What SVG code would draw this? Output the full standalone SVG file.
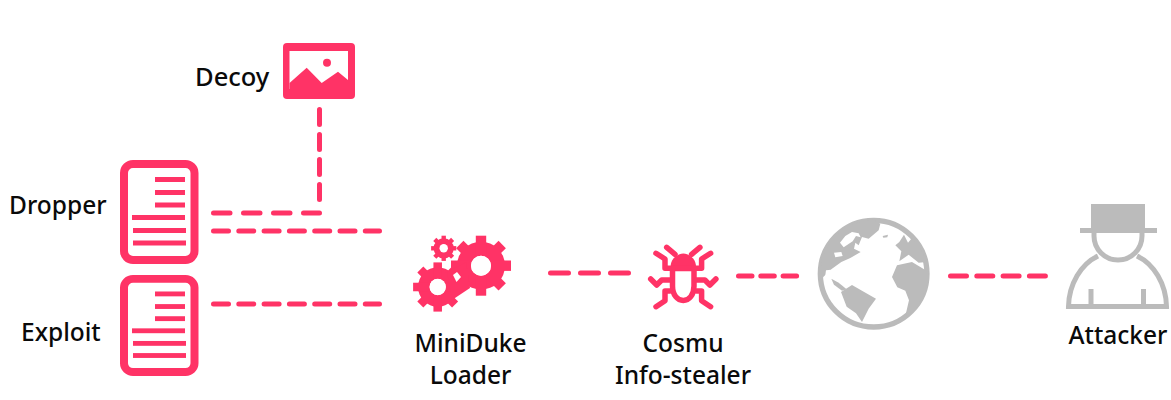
<svg xmlns="http://www.w3.org/2000/svg" xmlns:xlink="http://www.w3.org/1999/xlink" width="1171" height="400" viewBox="0 0 1171 400">
<style>
text{font-family:"Noto Sans","Open Sans",sans-serif;font-size:24.500px;font-weight:500;fill:#0a0a0a}
.m{text-anchor:middle}
.c{fill:none;stroke:#ff3366;stroke-width:5;stroke-linecap:round}
.p{fill:#ff3366}
.g{fill:#bbbbbb}
.w{fill:#ffffff}
.a{fill:none;stroke:#bbbbbb;stroke-width:5}
.b{fill:none;stroke:#ff3366;stroke-width:5.500;stroke-linecap:round;stroke-linejoin:round}
</style>
<defs>
<g id="doc">
<rect x="124" y="4" width="70.500" height="96" rx="9" fill="#fff" stroke="#ff3366" stroke-width="8"/>
<rect class="p" x="155" y="17" width="30" height="5"/>
<rect class="p" x="155" y="30" width="30" height="5"/>
<rect class="p" x="155" y="42.500" width="30" height="5"/>
<rect class="p" x="132" y="55" width="53" height="5"/>
<rect class="p" x="133" y="68" width="53" height="5"/>
<rect class="p" x="133" y="80.500" width="53" height="5"/>
</g>
<g id="gear">
<circle class="p" r="24"/>
<g id="t1"><rect class="p" x="-5.200" y="-30" width="10.400" height="60"/><rect class="p" x="-30" y="-5.200" width="60" height="10.400"/></g>
<use href="#t1" transform="rotate(45)"/>
<circle class="w" r="10"/>
</g>
<g id="legs">
<path class="b" d="M666.700 247.300L675 254.300M656 253.300L665 259V268.300H673M650.700 279L656.700 285L661.700 280H670M656 306.700L665 300.700V291H670"/>
</g>
</defs>
<g id="connectors">
<line class="c" x1="319.500" y1="109.500" x2="319.500" y2="199.500" stroke-dasharray="15 10"/>
<line class="c" x1="213.500" y1="213" x2="319.500" y2="213" stroke-dasharray="16.500 13.500"/>
<line class="c" x1="213.500" y1="231" x2="379.500" y2="231" stroke-dasharray="15 10.300"/>
<line class="c" x1="213.500" y1="304" x2="379.500" y2="304" stroke-dasharray="15 10.300"/>
<line class="c" x1="550.500" y1="273" x2="628.500" y2="273" stroke-dasharray="18 12"/>
<line class="c" x1="738.500" y1="276" x2="797" y2="276" stroke-dasharray="13.500 8.800"/>
<line class="c" x1="950.500" y1="276" x2="1045.500" y2="276" stroke-dasharray="16 10.300"/>
</g>
<g id="decoy">
<rect class="p" x="283" y="43" width="72" height="56" rx="4"/>
<rect class="w" x="289.500" y="51" width="58.500" height="38"/>
<path class="p" d="M289.500 83L306.700 67.700L321.700 83L338 71.700L348 80V90H289.500Z"/>
<circle class="p" cx="327" cy="62.700" r="4"/>
<text x="195" y="86" style="font-size:25.500px">Decoy</text>
</g>
<g id="dropper">
<use href="#doc" transform="translate(0,160)"/>
<text x="9" y="214">Dropper</text>
</g>
<g id="exploit">
<use href="#doc" transform="translate(0,275) scale(1,.97)"/>
<text x="21" y="341">Exploit</text>
</g>
<g id="loader">
<use href="#gear" transform="translate(481,265.700)"/>
<use href="#gear" transform="translate(437.700,287) scale(.82)"/>
<use href="#gear" transform="translate(443.700,248.300) scale(.42)"/>
<path class="p" d="M447 272L466 262L470 288L452 300Z"/>
<circle class="w" cx="481" cy="265.700" r="10"/>
<circle class="w" cx="437.700" cy="287" r="8"/>
<path class="w" d="M453 275L457 272L461 277L456.500 282Z"/>
<text class="m" x="470.500" y="352">MiniDuke</text>
<text class="m" x="470.500" y="384">Loader</text>
</g>
<g id="cosmu">
<path class="p" d="M671 270C669 261 675 254.500 683.300 253.500C691.600 254.500 697.600 261 695.600 270Z"/>
<path class="b" d="M672.500 268.500H694V286C694 295 689 300.500 683.300 300.500C677.500 300.500 672.500 295 672.500 286Z"/>
<use href="#legs"/>
<use href="#legs" transform="translate(1366.600,0) scale(-1,1)"/>
<text class="m" x="683" y="352">Cosmu</text>
<text class="m" x="683" y="384">Info-stealer</text>
</g>
<g id="internet" transform="translate(812,212) scale(.3333)">
<circle cx="185" cy="185" r="160" fill="#fff" stroke="#bbbbbb" stroke-width="16"/>
<path class="g" d="M28 200L60 170L88 150L115 138L146 120L126 110L130 92L140 100L150 75L170 80L200 55L205 35L180 22L110 40L60 80L30 140Z"/>
<path class="w" d="M84 92L100 72L120 60L140 64L146 76L132 72L122 88L95 106ZM66 122L88 120L92 132L70 136Z"/>
<path class="g" d="M58 200L80 212L104 232L90 236L66 218Z"/>
<path class="g" d="M87 240L120 219L150 236L192 260L170 290L150 330L132 304L104 284Z"/>
<path class="g" d="M240 195L255 160L300 150L330 168L350 180L344 225L312 290L280 312L291 265L280 236L256 226Z"/>
<path class="g" d="M250 100L268 118L262 148L290 128L320 152L344 150L325 110L300 78L288 92L276 68L262 90Z"/>
<path class="g" d="M212 72L228 68L226 76L214 77Z"/>
<path class="w" d="M42 175L72 172L78 186L58 200L38 205Z"/>
</g>
<g id="attacker">
<rect class="g" x="1091" y="204" width="54" height="24.500"/>
<rect class="g" x="1080" y="228" width="77" height="5"/>
<path class="a" d="M1094 231V236A24 24 0 0 0 1142 236V231"/>
<path class="a" d="M1098 256C1081 264 1069 284 1068.500 306.500H1166.500C1166 284 1154 264 1137 256"/>
<rect class="g" x="1088.500" y="289" width="5" height="16"/>
<rect class="g" x="1141" y="289" width="5" height="16"/>
<text class="m" x="1118" y="344">Attacker</text>
</g>
</svg>
